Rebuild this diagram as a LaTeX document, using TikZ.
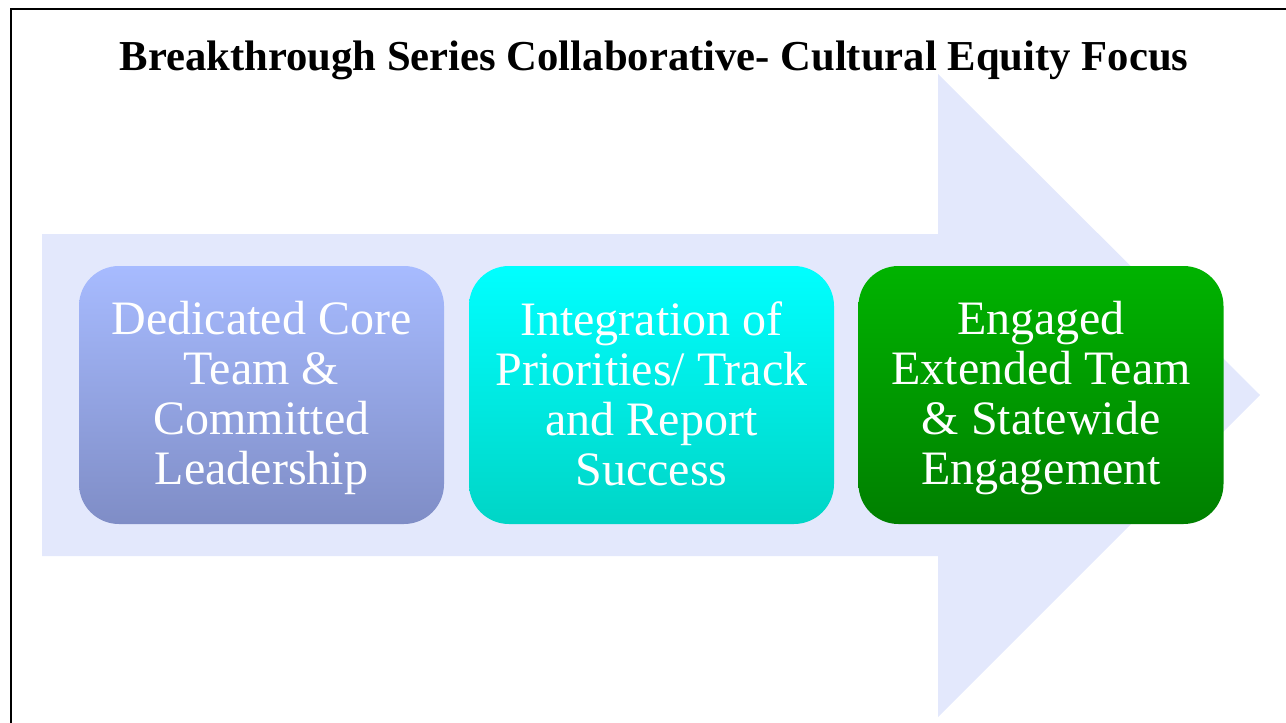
\documentclass[tikz,border=0pt]{standalone}
\usepackage{fontspec}
\setmainfont{Liberation Serif}
\definecolor{arrowfill}{HTML}{E3E8FC}
\definecolor{coretop}{HTML}{A7BBFF}
\definecolor{corebot}{HTML}{7F8DC6}
\definecolor{integtop}{HTML}{00FFFF}
\definecolor{integbot}{HTML}{00D5C6}
\definecolor{engtop}{HTML}{00B300}
\definecolor{engbot}{HTML}{007F00}
% fixed line heights so all boxes set their text alike
\newcommand{\upline}{\rule{0pt}{30pt}}
\newcommand{\lowline}{\rule[-7.5pt]{0pt}{7.5pt}}
\begin{document}
\begin{tikzpicture}[x=0.75pt,y=-0.75pt,
  stepbox/.style={rounded corners=30pt, minimum width=273.75pt, minimum height=193.5pt,
    inner sep=0pt, text=white, align=center, font=\fontsize{36}{37.5}\selectfont}]
\useasboundingbox (0,0) rectangle (1286,722);
\clip (0,0) rectangle (1286,722);
\draw[line width=2pt] (11,9) rectangle (1300,740);

% big arrow behind the boxes
\fill[arrowfill] (42,234) -- (938,234) -- (938,74) -- (1260,395) -- (938,717) -- (938,556) -- (42,556) -- cycle;

\node[anchor=base, font=\fontsize{32}{38}\selectfont\bfseries] (title) at (654,70) {Breakthrough Series Collaborative- Cultural Equity Focus};

\node[stepbox, top color=coretop, bottom color=corebot] (core) at (261.5,395) {\upline Dedicated Core\\Team \&\\Committed\\Leadership\lowline};
\node[stepbox, top color=integtop, bottom color=integbot] (integ) at (651.5,395) {\upline Integration of\\Priorities/ Track\\and Report\\Success\lowline};
\node[stepbox, top color=engtop, bottom color=engbot] (engage) at (1041,395) {\upline Engaged\\Extended Team\\\& Statewide\\Engagement\lowline};
\end{tikzpicture}
\end{document}
